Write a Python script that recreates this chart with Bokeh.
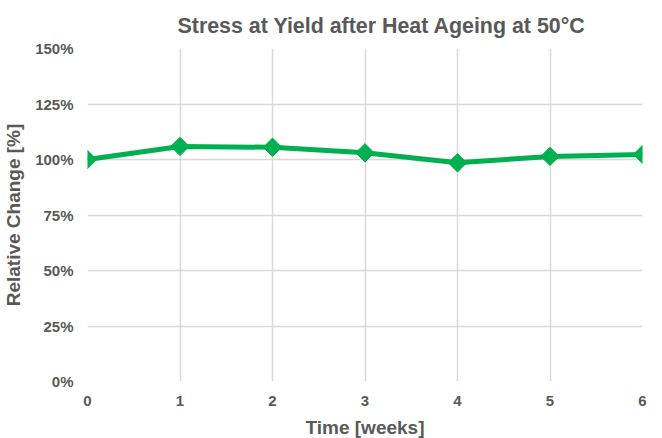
import numpy as np
from bokeh.plotting import figure
from bokeh.models import Range1d, FixedTicker, PrintfTickFormatter
from bokeh.embed import file_html
from bokeh.resources import INLINE

weeks = [0, 1, 2, 3, 4, 5, 6]
relative_change = [100.0, 105.9, 105.5, 103.0, 98.5, 101.4, 102.3]
y_ticks = [0, 25, 50, 75, 100, 125, 150]

GREEN = "#00B050"
GRAY_TXT = "#595959"
GRID = "#D9D9D9"
FONT = "Liberation Sans"

p = figure(frame_width=555, frame_height=333, output_backend="svg", toolbar_location=None,
           x_range=Range1d(0, 6), y_range=Range1d(0, 150),
           min_border_left=82, min_border_right=9, min_border_top=43, min_border_bottom=0)

p.title.text = "Stress at Yield after Heat Ageing at 50°C"
p.title.align = "left"
p.title.offset = 90
p.title.standoff = 22
p.title.text_font = FONT
p.title.text_font_size = "21.4px"
p.title.text_font_style = "bold"
p.title.text_color = GRAY_TXT

p.outline_line_color = None

p.xaxis.ticker = FixedTicker(ticks=weeks)
p.yaxis.ticker = FixedTicker(ticks=y_ticks)
p.yaxis.formatter = PrintfTickFormatter(format="%d%%")

for ax in (p.xaxis, p.yaxis):
    ax.axis_line_color = None
    ax.major_tick_line_color = None
    ax.minor_tick_line_color = None
    ax.major_label_text_font = FONT
    ax.major_label_text_font_size = "15px"
    ax.major_label_text_font_style = "bold"
    ax.major_label_text_color = GRAY_TXT
    ax.axis_label_text_font = FONT
    ax.axis_label_text_font_size = "19px"
    ax.axis_label_text_font_style = "bold"
    ax.axis_label_text_color = GRAY_TXT

p.xaxis.axis_label = "Time [weeks]"
p.yaxis.axis_label = "Relative Change [%]"
p.xaxis.major_label_standoff = 8
p.yaxis.major_label_standoff = 8
p.xaxis.axis_label_standoff = 8
p.yaxis.axis_label_standoff = 8

p.xgrid.grid_line_color = GRID
p.ygrid.grid_line_color = GRID
p.xgrid.grid_line_width = 1.5
p.ygrid.grid_line_width = 1.5

p.line(weeks, relative_change, line_color=GREEN, line_width=5)
p.scatter(weeks, relative_change, marker="square", angle=np.pi / 4, size=13,
          fill_color=GREEN, line_color=GREEN)

open("out.html", "w").write(file_html(p, INLINE))
